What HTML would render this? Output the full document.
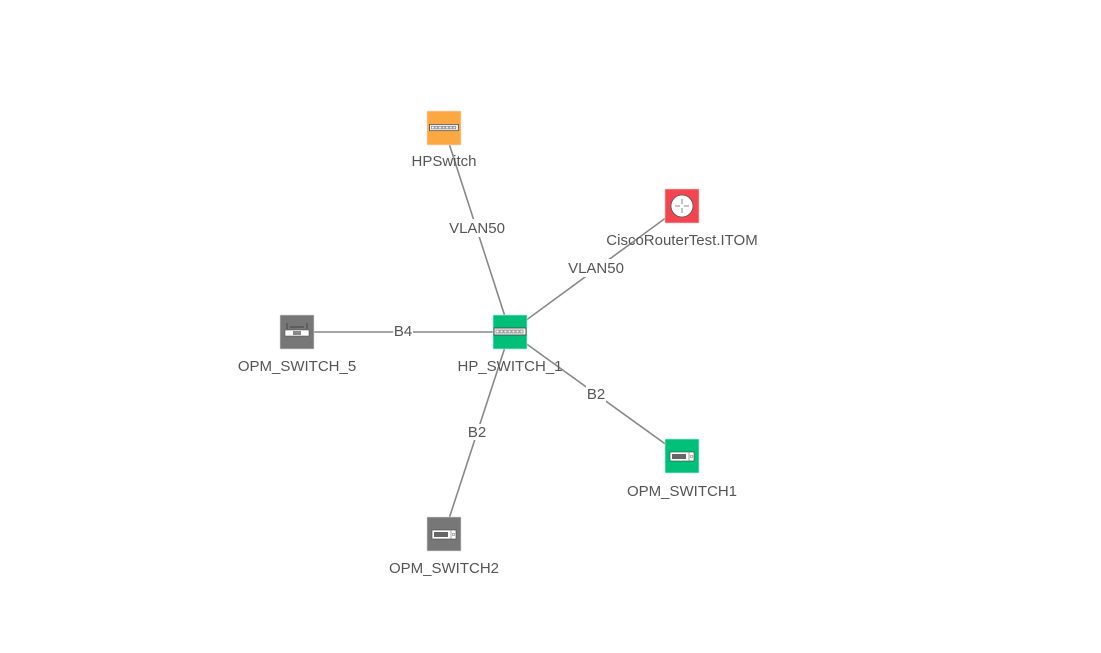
<!DOCTYPE html>
<html><head><meta charset="utf-8"><style>
html,body{margin:0;padding:0;background:#fff;width:1101px;height:653px;overflow:hidden}
svg text{font-family:"Liberation Sans",Arial,sans-serif;font-size:15px;fill:#555}
</style></head><body>
<svg width="1101" height="653" viewBox="0 0 1101 653" xmlns="http://www.w3.org/2000/svg">
<defs>
<g id="sw">
<rect x="-16" y="-4" width="32" height="7" fill="#eee" stroke="#444" stroke-width="0.8"/>
<rect x="-14" y="-2" width="3" height="3" fill="#fff" stroke="#555" stroke-width="0.5"/>
<g fill="none" stroke="#555" stroke-width="0.5">
<rect x="-10" y="-2" width="3" height="3"/><rect x="-6" y="-2" width="3" height="3"/><rect x="-2" y="-2" width="3" height="3"/><rect x="2" y="-2" width="3" height="3"/><rect x="6" y="-2" width="3" height="3"/><rect x="10" y="-2" width="3" height="3"/>
</g>
</g>
<g id="srv">
<rect x="-12" y="-4" width="24" height="9" fill="#fff" stroke="#444" stroke-width="0.6"/>
<rect x="-10" y="-2" width="14" height="5" fill="#666"/>
<line x1="7" y1="-4" x2="7" y2="5" stroke="#666" stroke-width="0.6"/>
<rect x="8.5" y="-0.5" width="2" height="2" fill="none" stroke="#666" stroke-width="0.5"/>
</g>
</defs>
<g stroke="#888" stroke-width="1.6">
<line x1="444" y1="128" x2="510" y2="332"/>
<line x1="682" y1="206" x2="510" y2="332"/>
<line x1="297" y1="332" x2="510" y2="332"/>
<line x1="682" y1="456" x2="510" y2="332"/>
<line x1="444" y1="534" x2="510" y2="332"/>
</g>
<g text-anchor="middle">
<rect x="447" y="219" width="60" height="18" fill="#fff"/><text x="477" y="233">VLAN50</text>
<rect x="566" y="259" width="60" height="18" fill="#fff"/><text x="596" y="273">VLAN50</text>
<rect x="393" y="323" width="20" height="16" fill="#fff"/><text x="403" y="336">B4</text>
<rect x="586" y="386" width="20" height="16" fill="#fff"/><text x="596" y="399">B2</text>
<rect x="467" y="424" width="20" height="16" fill="#fff"/><text x="477" y="437">B2</text>
</g>
<rect x="427" y="111" width="34" height="34" fill="#FBA843" stroke="#fdd" stroke-width="0.6"/>
<use href="#sw" transform="translate(444,128) scale(0.9)"/>
<rect x="665" y="189" width="34" height="34" fill="#F34550" stroke="#fcc" stroke-width="0.6"/>
<circle cx="682" cy="206" r="11" fill="#fff" stroke="#555" stroke-width="0.8"/>
<g stroke="#666" stroke-width="0.8" fill="none"><path d="M682 199v5M682 208v5M675 206h5M684 206h5"/></g>
<rect x="493" y="315" width="34" height="34" fill="#00BF78" stroke="#bfe" stroke-width="0.6"/>
<use href="#sw" transform="translate(510,332)"/>
<rect x="280" y="315" width="34" height="34" fill="#777" stroke="#ddd" stroke-width="0.6"/>
<rect x="285" y="330" width="24" height="6" fill="#fff" stroke="#444" stroke-width="0.5"/>
<rect x="293" y="331" width="8" height="4" fill="#888"/>
<path d="M287 323v6M307 323v6M290 327h14" stroke="#333" stroke-width="0.7"/>
<rect x="665" y="439" width="34" height="34" fill="#00BF78" stroke="#bfe" stroke-width="0.6"/>
<use href="#srv" transform="translate(682,456)"/>
<rect x="427" y="517" width="34" height="34" fill="#777" stroke="#ddd" stroke-width="0.6"/>
<use href="#srv" transform="translate(444,534)"/>
<g text-anchor="middle">
<text x="444" y="166">HPSwitch</text>
<text x="682" y="245">CiscoRouterTest.ITOM</text>
<text x="510" y="371">HP_SWITCH_1</text>
<text x="297" y="371">OPM_SWITCH_5</text>
<text x="682" y="496">OPM_SWITCH1</text>
<text x="444" y="573">OPM_SWITCH2</text>
</g>
</svg>
</body></html>
